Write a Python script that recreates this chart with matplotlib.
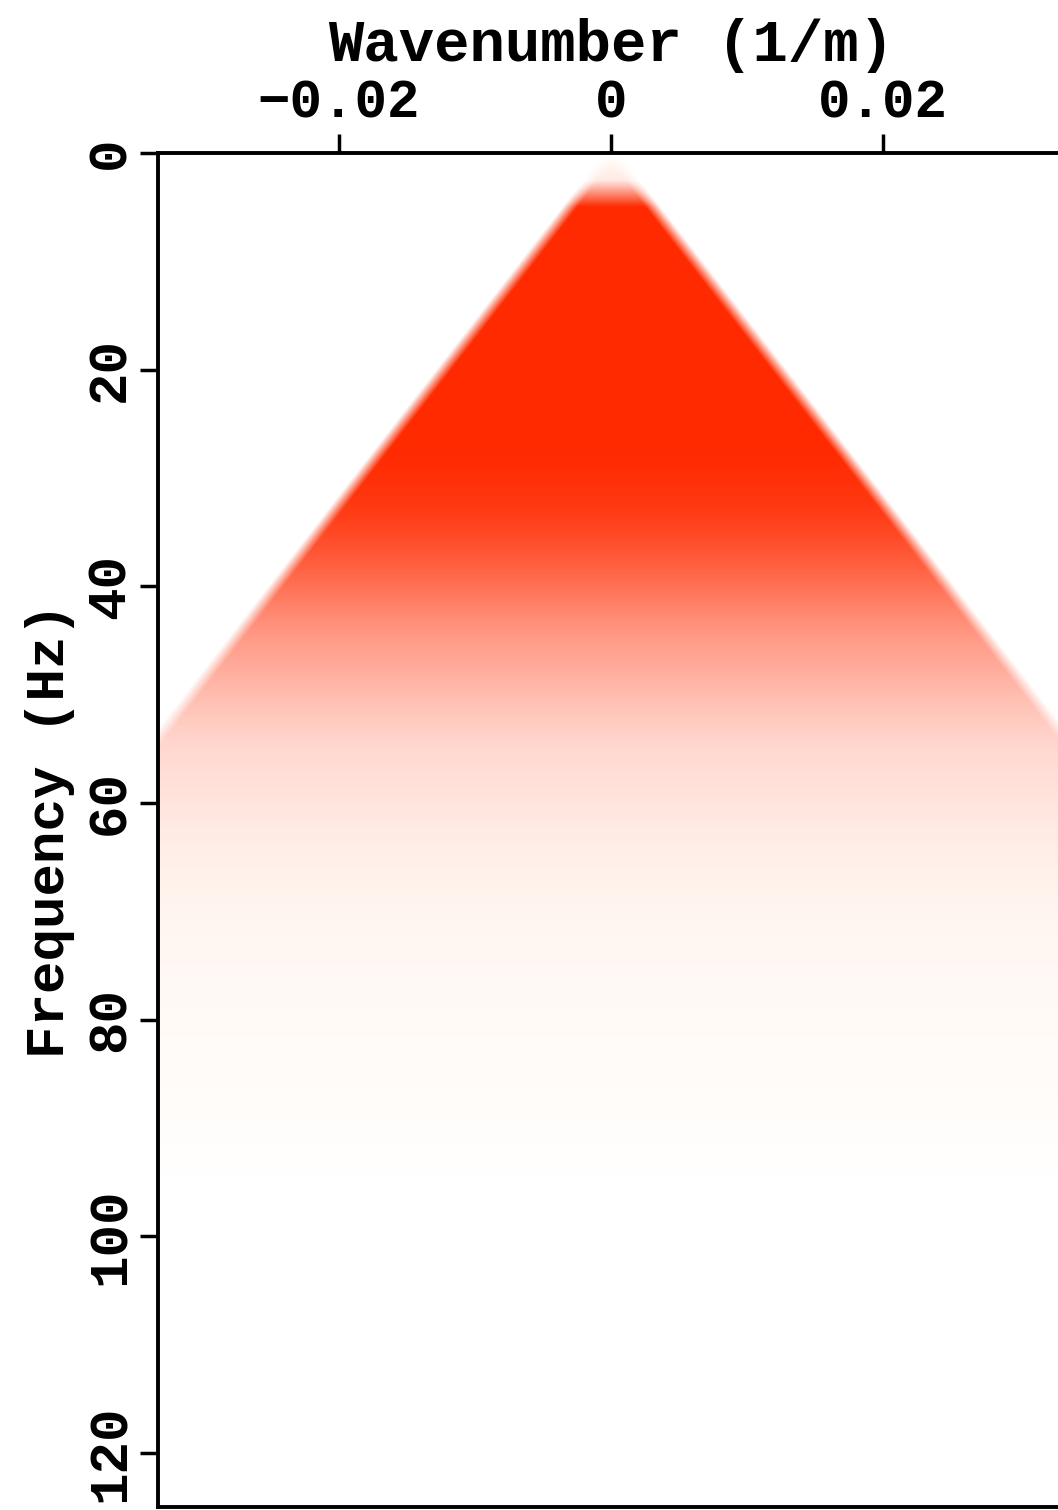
import numpy as np
import matplotlib
matplotlib.use("Agg")
import matplotlib.pyplot as plt
from matplotlib.colors import LinearSegmentedColormap

# ---- spectrum description -------------------------------------------------
# amplitude of the wavelet spectrum, one value every 2.5 Hz from 0 to 125 Hz
freq_step_hz = 2.5
amplitude = [
    0.00, 0.10, 1.00, 1.00, 1.00, 1.00, 1.00, 1.00, 1.00, 1.00, 1.00, 1.00,   # 0 - 27.5 Hz
    0.97, 0.93, 0.86, 0.77, 0.67, 0.56, 0.47, 0.40, 0.32, 0.25, 0.19, 0.16,   # 30 - 57.5 Hz
    0.13, 0.10, 0.08, 0.065, 0.05, 0.042, 0.035, 0.03, 0.026, 0.022, 0.018,   # 60 - 85 Hz
    0.014, 0.010, 0.006, 0.003, 0.0, 0.0, 0.0, 0.0, 0.0, 0.0, 0.0, 0.0,       # 87.5 - 115 Hz
    0.0, 0.0, 0.0, 0.0,                                                        # 117.5 - 125 Hz
]
# energy is confined inside the cone |k| <= f / v
cone_velocity = 1620.0      # m/s
cone_edge_width = 0.0011    # 1/m, softness of the cone flanks
k_nyquist = 1.0 / 30.0      # 1/m (15 m trace spacing)
f_max = 125.0               # Hz

x_ticks = [-0.02, 0.0, 0.02]
x_tick_labels = ["\u22120.02", "0", "0.02"]
y_ticks = [0, 20, 40, 60, 80, 100, 120]
y_tick_labels = ["0", "20", "40", "60", "80", "100", "120"]

# ---- colours ----------------------------------------------------------------
red_cmap = LinearSegmentedColormap.from_list(
    "white_red",
    [(0.0, "#FFFFFF"), (0.04, "#FFF7F1"), (0.2, "#FFD6CE"), (1.0, "#FF2A00")],
)

font = "Liberation Mono"
plt.rcParams["font.family"] = [font, "DejaVu Sans"]
plt.rcParams["font.weight"] = "bold"

fig = plt.figure(figsize=(10.58, 15.10), dpi=100)
W, H = 1058.0, 1510.0
ax_x0, ax_x1 = 157.7, 1064.3
ax_y0, ax_y1 = 153.0, 1507.0
ax = fig.add_axes([ax_x0 / W, 1 - ax_y1 / H, (ax_x1 - ax_x0) / W, (ax_y1 - ax_y0) / H])

# spectrum amplitude as a function of frequency (smoothly rendered by imshow)
amp = np.asarray(amplitude)
n_f = len(amp)
spec = np.repeat(amp[:, None], 2, axis=1)
half = freq_step_hz / 2
ax.imshow(spec, cmap=red_cmap, vmin=0, vmax=1, aspect="auto",
          interpolation="bilinear", origin="upper",
          extent=[-k_nyquist, k_nyquist, (n_f - 1) * freq_step_hz + half, -half],
          zorder=1)

# white mask outside the propagation cone
kk = np.linspace(-k_nyquist, k_nyquist, 1200)
ff = np.linspace(0, f_max, 1400)
FF, KK = np.meshgrid(ff, kk, indexing="ij")
inside = np.clip((FF / cone_velocity - np.abs(KK)) / cone_edge_width + 0.5, 0, 1)
mask = np.ones(FF.shape + (4,))
mask[..., 3] = 1.0 - inside
ax.imshow(mask, aspect="auto", interpolation="bilinear", origin="upper",
          extent=[-k_nyquist, k_nyquist, f_max, 0], zorder=2)

ax.set_xlim(-k_nyquist, k_nyquist)
ax.set_ylim(f_max, 0)

# axes frame and ticks
for s in ax.spines.values():
    s.set_linewidth(2.8)
    s.set_zorder(5)

ax.xaxis.tick_top()
ax.set_xticks(x_ticks)
ax.set_xticklabels(x_tick_labels)
ax.set_yticks(y_ticks)
ax.set_yticklabels(y_tick_labels)
ax.tick_params(axis="x", which="major", direction="out", length=14, width=2.5,
               pad=4, labelsize=39, top=True, bottom=False,
               labeltop=True, labelbottom=False)
ax.tick_params(axis="y", which="major", direction="out", length=13, width=2.5,
               pad=3, labelsize=39, labelrotation=90)
for lab in ax.get_yticklabels():
    lab.set_verticalalignment("center")
    lab.set_fontweight("bold")
for lab in ax.get_xticklabels():
    lab.set_fontweight("bold")

ax.xaxis.set_label_position("top")
ax.set_xlabel("Wavenumber (1/m)", fontsize=42.5, fontweight="bold")
ax.xaxis.set_label_coords(0.5, (ax_y1 - 61) / (ax_y1 - ax_y0))
ax.set_ylabel("Frequency (Hz)", fontsize=39, fontweight="bold")
ax.yaxis.set_label_coords((75 - ax_x0) / (ax_x1 - ax_x0), 0.5)

fig.savefig("out.png", dpi=100)
